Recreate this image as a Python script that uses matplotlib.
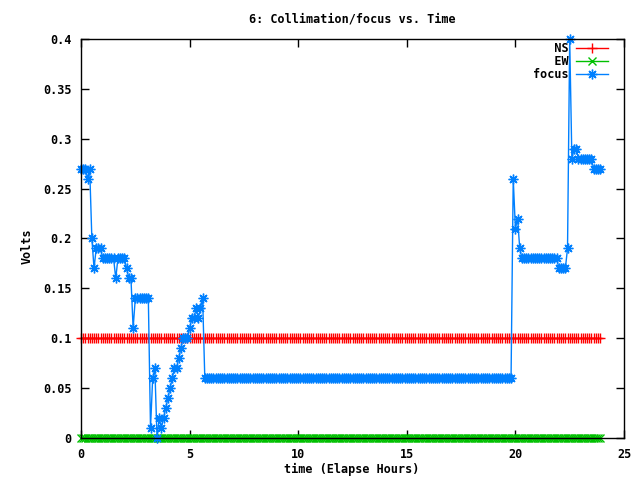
import numpy as np
import matplotlib
matplotlib.use("Agg")
import matplotlib.pyplot as plt

# sample step in hours (data logged every ~6 min)
step = 0.1

# focus trace as run-length pairs: level (V), number of samples
focus_levels = [0.27, 0.26, 0.27, 0.20, 0.17, 0.19, 0.18, 0.16, 0.18, 0.17,
                0.16, 0.11, 0.14, 0.01, 0.06, 0.07, 0.00, 0.02, 0.01, 0.02,
                0.03, 0.04, 0.05, 0.06, 0.07, 0.08, 0.09, 0.10, 0.11, 0.12,
                0.13, 0.12, 0.13, 0.14, 0.06, 0.26, 0.21, 0.22, 0.19, 0.18,
                0.17, 0.19, 0.40, 0.28, 0.29, 0.28, 0.27]
focus_runs = [3, 1, 1, 1, 1, 3, 6, 1, 4, 1,
              2, 1, 7, 1, 1, 1, 1, 1, 1, 1,
              1, 1, 1, 1, 2, 1, 1, 3, 1, 2,
              1, 1, 1, 1, 142, 1, 1, 1, 1, 17,
              4, 1, 1, 1, 2, 7, 4]

ns_level = 0.1
ew_level = 0.0

focus = np.repeat(focus_levels, focus_runs)
hours = np.arange(len(focus)) * step
ns = np.full(len(hours), ns_level)
ew = np.full(len(hours), ew_level)

xticks = [0, 5, 10, 15, 20, 25]
yticks = [0, 0.05, 0.1, 0.15, 0.2, 0.25, 0.3, 0.35, 0.4]
ytick_labels = ["0", "0.05", "0.1", "0.15", "0.2", "0.25", "0.3", "0.35", "0.4"]

plt.rcParams["font.family"] = ["DejaVu Sans Mono"]
plt.rcParams["font.weight"] = "bold"
plt.rcParams["font.size"] = 8.5

fig = plt.figure(figsize=(6.4, 4.8), dpi=100)
ax = fig.add_axes([81 / 640, 1 - 438 / 480, 543 / 640, 399 / 480])

star = (8, 2, 0)
ax.plot(hours, ns, color="#ff0000", lw=1, marker="+", ms=7, mew=1,
        label="   NS", clip_on=False)
ax.plot(hours, ew, color="#00c000", lw=1, marker="x", ms=5.5, mew=1,
        label="   EW", clip_on=False)
ax.plot(hours, focus, color="#0080ff", lw=1, marker=star, ms=7, mew=1,
        label="focus", clip_on=False)

ax.set_xlim(0, 25)
ax.set_ylim(0, 0.4)
ax.set_xticks(xticks)
ax.set_yticks(yticks)
ax.set_yticklabels(ytick_labels)
ax.tick_params(direction="in", length=6, width=1, top=True, right=True,
               pad=7, colors="black")
for s in ax.spines.values():
    s.set_linewidth(1)

ax.legend(loc="upper right", bbox_to_anchor=(0.9705, 0.993),
          frameon=False, markerfirst=False,
          handlelength=2.7, handletextpad=0.6, labelspacing=0.02,
          borderaxespad=0, borderpad=0,
          prop={"family": "DejaVu Sans Mono", "weight": "bold", "size": 8.5})

fig.text(352 / 640, 1 - 19 / 480, "6: Collimation/focus vs. Time",
         ha="center", va="center")
fig.text(352 / 640, 1 - 469 / 480, "time (Elapse Hours)",
         ha="center", va="center")
fig.text(27 / 640, 1 - 246 / 480, "Volts", rotation=90,
         ha="center", va="center")

fig.savefig("out.png", dpi=100)
